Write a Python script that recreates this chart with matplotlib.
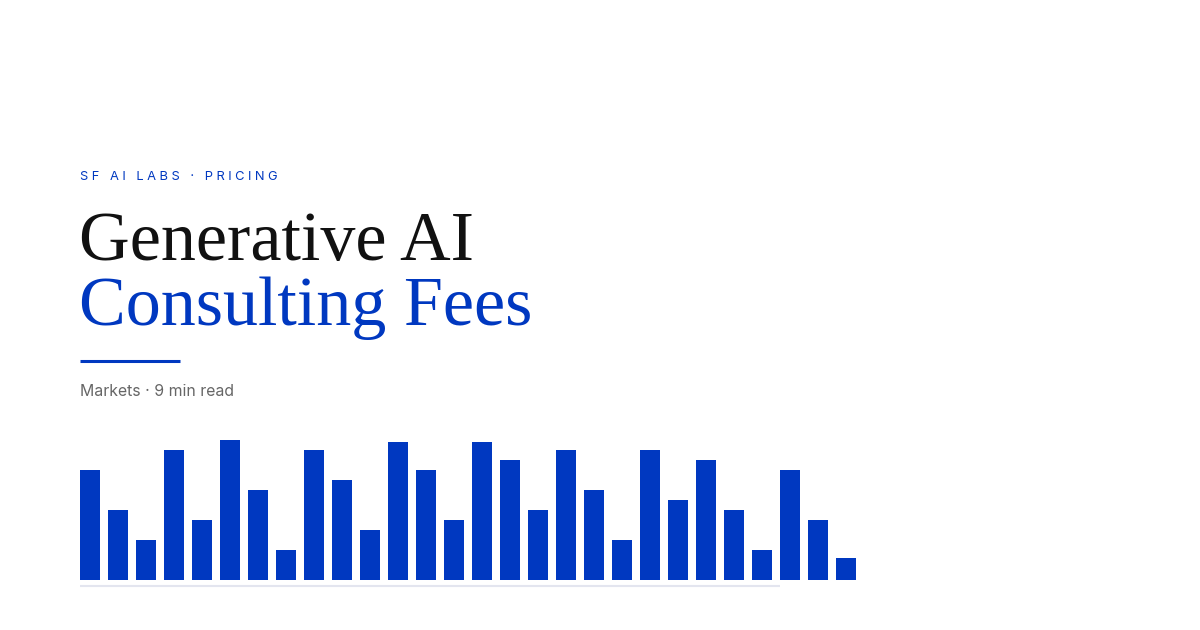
import matplotlib
matplotlib.use('Agg')
import matplotlib.pyplot as plt

W, H = 1200, 630

# bar heights (pixels above the baseline)
heights = [110, 70, 40, 130, 60, 140, 90, 30, 130, 100, 50, 138, 110, 60,
           138, 120, 70, 130, 90, 40, 130, 80, 120, 70, 30, 110, 60, 22]
positions = list(range(len(heights)))

kicker = 'SF AI LABS · PRICING'
title_1 = 'Generative AI'
title_2 = 'Consulting Fees'
byline = 'Markets · 9 min read'

blue = '#0038c0'
grey = '#666666'


def fx(px):
    return px / W


def fy(py):
    return 1 - py / H


fig = plt.figure(figsize=(W / 100, H / 100), dpi=100)
fig.patch.set_facecolor('white')

# kicker with loose letter spacing (thin + hair spaces)
spaced = '\u2009\u200a'.join(kicker)
fig.text(fx(80), fy(180), spaced, color=blue, fontsize=9.3,
         family=['Inter', 'DejaVu Sans'], va='baseline', ha='left')

fig.text(fx(79), fy(260), title_1, color='#111111', fontsize=50.5,
         family='Liberation Serif', va='baseline', ha='left')
fig.text(fx(79), fy(325), title_2, color=blue, fontsize=50.5,
         family='Liberation Serif', va='baseline', ha='left')

# short accent rule under the title
fig.add_artist(plt.Line2D([fx(80), fx(180)], [fy(361), fy(361)],
                          color=blue, linewidth=2.2, solid_capstyle='butt',
                          transform=fig.transFigure))

fig.text(fx(80), fy(396), byline, color=grey, fontsize=11.4,
         family=['Inter', 'DejaVu Sans'], va='baseline', ha='left')

# bars
unit = 28.0
x0 = -10 / unit
ax = fig.add_axes([fx(80), fy(590), fx(28 * unit), 150 / H])
ax.bar(positions, heights, width=20 / unit, color=blue, linewidth=0)
ax.set_xlim(x0, x0 + 28)
ax.set_ylim(-10, 140)
ax.axhline(-6, xmin=0, xmax=700 / (28 * unit), color='#e3e5ef',
           linewidth=1.5, solid_capstyle='butt')
ax.axis('off')

fig.savefig('out.png', dpi=100, facecolor='white')
